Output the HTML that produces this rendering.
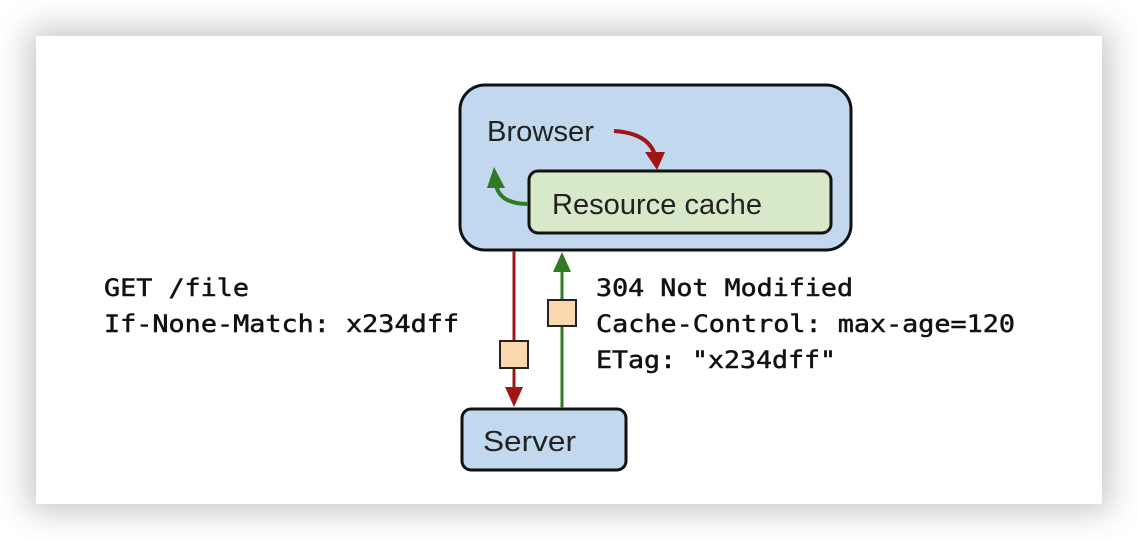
<!DOCTYPE html>
<html><head><style>
html,body{margin:0;padding:0;background:#fff;}
.wrap{position:relative;width:1138px;height:540px;overflow:hidden;background:#fff;}
.card{position:absolute;left:36px;top:36px;width:1066px;height:468px;background:#fff;box-shadow:0 0 30px 8px rgba(0,0,0,0.22);}
svg{position:absolute;left:0;top:0;}
</style></head><body><div class="wrap"><div class="card"></div>
<svg width="1138" height="540" viewBox="0 0 1138 540">
<rect x="460" y="85" width="391" height="165" rx="25" fill="#c2d8ef" stroke="#111" stroke-width="3"/>
<rect x="529" y="171" width="302" height="62" rx="9" fill="#d7e9c8" stroke="#111" stroke-width="3"/>
<text x="487" y="141" font-family="Liberation Sans, sans-serif" font-size="29" fill="#222" textLength="107" lengthAdjust="spacingAndGlyphs">Browser</text>
<text x="552" y="214" font-family="Liberation Sans, sans-serif" font-size="29" fill="#222" textLength="210" lengthAdjust="spacingAndGlyphs">Resource cache</text>
<path d="M614 131 Q648 133 655 155" fill="none" stroke="#a01515" stroke-width="4"/>
<polygon points="645,152 665,152 657,170" fill="#a01515"/>
<path d="M528 204 Q500 204 496 185" fill="none" stroke="#2f7a22" stroke-width="4"/>
<polygon points="487,188 505,188 494,167" fill="#2f7a22"/>
<rect x="462" y="409" width="164" height="61" rx="9" fill="#c2d8ef" stroke="#111" stroke-width="3"/>
<text x="483" y="451" font-family="Liberation Sans, sans-serif" font-size="29" fill="#222" textLength="93" lengthAdjust="spacingAndGlyphs">Server</text>
<line x1="514" y1="251" x2="514" y2="390" stroke="#a01515" stroke-width="3"/>
<polygon points="505,387 523,387 514,407" fill="#a01515"/>
<rect x="500" y="341" width="28" height="27" fill="#fbd7b0" stroke="#222" stroke-width="2"/>
<line x1="562" y1="408" x2="562" y2="268" stroke="#2f7a22" stroke-width="3"/>
<polygon points="553,272 571,272 562,252" fill="#2f7a22"/>
<rect x="548" y="300" width="28" height="26" fill="#fbd7b0" stroke="#222" stroke-width="2"/>
<g font-family="DejaVu Sans Mono, Liberation Mono, monospace" font-size="24" fill="#111" stroke="#111" stroke-width="0.5">
<text x="104" y="296" textLength="145" lengthAdjust="spacingAndGlyphs">GET /file</text>
<text x="104" y="332" textLength="355" lengthAdjust="spacingAndGlyphs">If-None-Match: x234dff</text>
<text x="596" y="296" textLength="257" lengthAdjust="spacingAndGlyphs">304 Not Modified</text>
<text x="596" y="332" textLength="419" lengthAdjust="spacingAndGlyphs">Cache-Control: max-age=120</text>
<text x="596" y="368" textLength="240" lengthAdjust="spacingAndGlyphs">ETag: "x234dff"</text>
</g>
</svg></div></body></html>
